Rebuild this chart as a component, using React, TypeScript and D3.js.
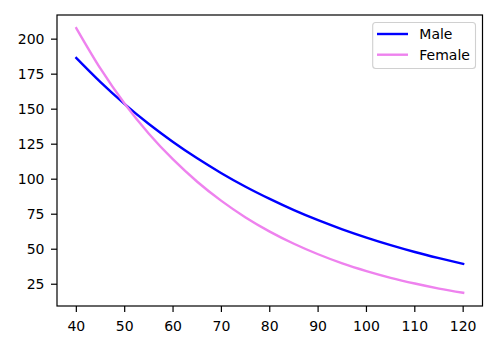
import React from "react";
import * as d3 from "d3";

const ages = [40, 45, 50, 55, 60, 65, 70, 75, 80, 85, 90, 95, 100, 105, 110, 115, 120];
const maleValues = [186.5, 169.3, 153.6, 139.4, 126.6, 114.9, 104.3, 94.6, 85.9, 77.9, 70.7, 64.2, 58.3, 52.9, 48.0, 43.6, 39.5];
const femaleValues = [207.8, 178.9, 153.9, 132.5, 114.1, 98.2, 84.5, 72.7, 62.6, 53.9, 46.4, 39.9, 34.4, 29.6, 25.5, 21.9, 18.9];
const xTicks = [40, 50, 60, 70, 80, 90, 100, 110, 120];
const yTicks = [25, 50, 75, 100, 125, 150, 175, 200];
const seriesNames = ["Male", "Female"];
const seriesColors = ["#0000ff", "#ee82ee"];

const W = 498;
const H = 350;
const L = 57;
const R = 482.5;
const T = 15;
const B = 306;
const FONT = "DejaVu Sans, sans-serif";

export default function App() {
  const xMin = d3.min(ages)!;
  const xMax = d3.max(ages)!;
  const xPad = (xMax - xMin) * 0.05;
  const x = d3.scaleLinear().domain([xMin - xPad, xMax + xPad]).range([L, R]);
  const all = [...maleValues, ...femaleValues];
  const yMin = d3.min(all)!;
  const yMax = d3.max(all)!;
  const yPad = (yMax - yMin) * 0.05;
  const y = d3.scaleLinear().domain([yMin - yPad, yMax + yPad]).range([B, T]);

  const line = d3
    .line<[number, number]>()
    .x((d) => x(d[0]))
    .y((d) => y(d[1]))
    .curve(d3.curveMonotoneX);

  const series = [maleValues, femaleValues].map((vals) =>
    line(ages.map((a, i) => [a, vals[i]] as [number, number]))
  );

  return (
    <div style={{ position: "fixed", left: 0, top: 0 }}>
      <svg width={W} height={H} style={{ display: "block", background: "#fff" }}>
        <rect x={0} y={0} width={W} height={H} fill="#fff" />
        {series.map((d, i) => (
          <path
            key={i}
            d={d || ""}
            fill="none"
            stroke={seriesColors[i]}
            strokeWidth={2.4}
            strokeLinecap="square"
          />
        ))}
        {/* spines */}
        <rect x={L} y={T} width={R - L} height={B - T} fill="none" stroke="#000" strokeWidth={1.2} />
        {/* x ticks */}
        {xTicks.map((t) => (
          <g key={t}>
            <line x1={x(t)} x2={x(t)} y1={B} y2={B + 6} stroke="#000" strokeWidth={1.2} />
            <text x={x(t)} y={331} textAnchor="middle" fontFamily={FONT} fontSize={14} fill="#000">
              {t}
            </text>
          </g>
        ))}
        {/* y ticks */}
        {yTicks.map((t) => (
          <g key={t}>
            <line x1={L - 6} x2={L} y1={y(t)} y2={y(t)} stroke="#000" strokeWidth={1.2} />
            <text x={44.5} y={y(t)} dy="0.36em" textAnchor="end" fontFamily={FONT} fontSize={14} fill="#000">
              {t}
            </text>
          </g>
        ))}
        {/* legend */}
        <rect
          x={372.7}
          y={22.5}
          width={102.8}
          height={46}
          rx={3}
          ry={3}
          fill="#fff"
          fillOpacity={0.8}
          stroke="#d0d0d0"
          strokeWidth={1.1}
        />
        {seriesNames.map((n, i) => (
          <g key={n}>
            <line
              x1={377}
              x2={408}
              y1={34 + i * 20.7}
              y2={34 + i * 20.7}
              stroke={seriesColors[i]}
              strokeWidth={2.4}
            />
            <text x={419.3} y={34 + i * 20.7} dy="0.36em" fontFamily={FONT} fontSize={14} fill="#000">
              {n}
            </text>
          </g>
        ))}
      </svg>
    </div>
  );
}
